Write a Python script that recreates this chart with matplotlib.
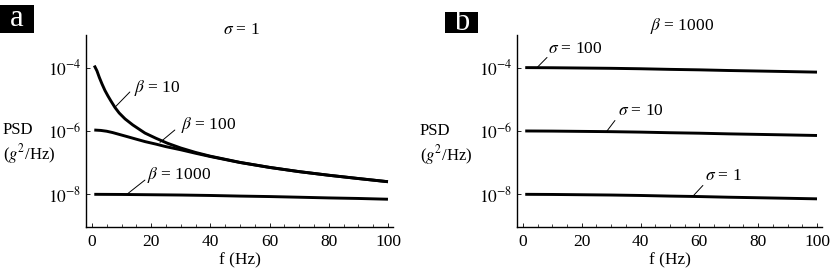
import matplotlib
matplotlib.use("Agg")
import matplotlib.pyplot as plt
from matplotlib.patches import Rectangle
from matplotlib.ticker import MultipleLocator, FixedLocator, NullLocator

plt.rcParams['font.family'] = ['Liberation Serif', 'DejaVu Serif']
plt.rcParams['mathtext.fontset'] = 'stix'

# ---- data ----
f_b10 = [0.8, 1.7, 2.5, 3.4, 4.4, 5.4, 6.4, 7.8, 9.2, 11.2, 13.8, 17.9, 21.6, 25.5, 30, 35, 40, 50, 60, 70, 80, 90, 100]
psd_b10 = [1.16e-4, 7.9e-5, 4.9e-5, 3.06e-5, 1.9e-5, 1.28e-5, 8.9e-6, 5.5e-6, 3.7e-6, 2.4e-6, 1.55e-6, 8.6e-7, 5.9e-7, 4.1e-7, 2.9e-7, 2.1e-7, 1.6e-7, 1.02e-7, 7.1e-8, 5.2e-8, 4.0e-8, 3.15e-8, 2.5e-8]

f_b100 = [0.8, 3, 5, 7, 9.2, 12, 15, 18, 21.6, 25, 30, 35, 40, 50, 60, 70, 80, 90, 100]
psd_b100 = [1.07e-6, 1.04e-6, 9.8e-7, 8.9e-7, 7.8e-7, 6.6e-7, 5.5e-7, 4.6e-7, 3.85e-7, 3.2e-7, 2.55e-7, 1.98e-7, 1.56e-7, 1.01e-7, 7.05e-8, 5.2e-8, 4.0e-8, 3.15e-8, 2.5e-8]

f_flat = [0.8, 10, 20, 30, 40, 50, 60, 70, 80, 90, 100]
psd_b1000 = [1.0e-8, 0.99e-8, 0.97e-8, 0.95e-8, 0.92e-8, 0.88e-8, 0.85e-8, 0.81e-8, 0.77e-8, 0.74e-8, 0.70e-8]
psd_s100 = [1.0e-4, 0.99e-4, 0.97e-4, 0.95e-4, 0.92e-4, 0.88e-4, 0.85e-4, 0.81e-4, 0.78e-4, 0.75e-4, 0.72e-4]
psd_s10 = [1.0e-6, 0.99e-6, 0.97e-6, 0.95e-6, 0.92e-6, 0.88e-6, 0.85e-6, 0.81e-6, 0.78e-6, 0.75e-6, 0.72e-6]
psd_s1 = [1.0e-8, 0.99e-8, 0.97e-8, 0.95e-8, 0.92e-8, 0.88e-8, 0.85e-8, 0.81e-8, 0.78e-8, 0.75e-8, 0.72e-8]

xticks = [0, 20, 40, 60, 80, 100]
yticks = [1e-8, 1e-6, 1e-4]
ytick_labels = [r'$10^{-8}$', r'$10^{-6}$', r'$10^{-4}$']

W, H = 830, 274
fig = plt.figure(figsize=(W / 100, H / 100), dpi=100)

def px_axes(l, r, t, b):
    return fig.add_axes([l / W, (H - b) / H, (r - l) / W, (b - t) / H])

axa = px_axes(86, 393, 35, 227)
axb = px_axes(517, 822, 35, 227)

LW = 2.1
axa.plot(f_b10, psd_b10, color='black', lw=LW, solid_capstyle='butt', solid_joinstyle='round')
axa.plot(f_b100, psd_b100, color='black', lw=LW, solid_capstyle='butt', solid_joinstyle='round')
axa.plot(f_flat, psd_b1000, color='black', lw=LW, solid_capstyle='butt')

axb.plot(f_flat, psd_s100, color='black', lw=LW, solid_capstyle='butt')
axb.plot(f_flat, psd_s10, color='black', lw=LW, solid_capstyle='butt')
axb.plot(f_flat, psd_s1, color='black', lw=LW, solid_capstyle='butt')

for ax in (axa, axb):
    ax.set_yscale('log')
    ax.set_xlim(-2.0, 101.7)
    ax.set_ylim(0.93e-9, 1.07e-3)
    ax.spines['top'].set_visible(False)
    ax.spines['right'].set_visible(False)
    ax.spines['left'].set_linewidth(1.0)
    ax.spines['bottom'].set_linewidth(1.0)
    ax.xaxis.set_major_locator(FixedLocator(xticks))
    ax.xaxis.set_minor_locator(MultipleLocator(5))
    ax.set_xticklabels([str(v) for v in xticks])
    ax.yaxis.set_major_locator(FixedLocator(yticks))
    ax.yaxis.set_minor_locator(NullLocator())
    ax.set_yticklabels(ytick_labels)
    ax.tick_params(axis='both', which='major', direction='in', length=3, width=0.6, labelsize=12.5, pad=5)
    ax.tick_params(axis='x', which='minor', direction='in', length=2, width=0.5)
    ax.tick_params(axis='y', which='major', pad=3)
    ax.set_xlabel('f (Hz)', fontsize=12.5, labelpad=2)

# titles
axa.text(0.505, 1.005, r'$\sigma$ = 1', transform=axa.transAxes, ha='center', va='baseline', fontsize=12.5)
axb.text(0.541, 1.026, r'$\beta$ = 1000', transform=axb.transAxes, ha='center', va='baseline', fontsize=12.5)

# y labels
for x0, y1, y2 in ((3, 130, 154), (420, 131, 155)):
    fig.text(x0 / W, 1 - y1 / H, 'PSD', ha='left', va='center', fontsize=12)
    fig.text(x0 / W, 1 - y2 / H, r'($g^2$/Hz)', ha='left', va='center', fontsize=12)

# panel tags
for (l, t, r, b, s) in ((0, 5, 34, 33, 'a'), (445, 12, 478, 33, 'b')):
    fig.patches.append(Rectangle((l / W, 1 - b / H), (r - l) / W, (b - t) / H,
                                 transform=fig.transFigure, facecolor='black', edgecolor='none'))
    fig.text((l + r) / 2 / W, 1 - (t + b) / 2 / H, s, color='white', ha='center', va='center',
             fontsize=22)

def label(ax, text, xy, leader_end, text_pos):
    ax.annotate('', xy=xy, xytext=leader_end,
                arrowprops=dict(arrowstyle='-', lw=0.7, color='black', shrinkA=0, shrinkB=0))
    ax.text(text_pos[0], text_pos[1], text, ha='left', va='center', fontsize=12.5)

label(axa, r'$\beta$ = 10', (7.8, 10**-5.25), (12.8, 10**-4.77), (14.3, 10**-4.65))
label(axa, r'$\beta$ = 100', (23, 10**-6.36), (28, 10**-5.97), (30.2, 10**-5.81))
label(axa, r'$\beta$ = 1000', (11.8, 10**-8.0), (17.9, 10**-7.55), (18.6, 10**-7.39))

label(axb, r'$\sigma$ = 100', (4.8, 10**-4.0), (8.2, 10**-3.68), (8.5, 10**-3.42))
label(axb, r'$\sigma$ = 10', (28.6, 10**-6.0), (31.3, 10**-5.67), (32.3, 10**-5.37))
label(axb, r'$\sigma$ = 1', (57.8, 10**-8.06), (61.2, 10**-7.72), (61.8, 10**-7.42))

fig.savefig('out.png', dpi=100)
